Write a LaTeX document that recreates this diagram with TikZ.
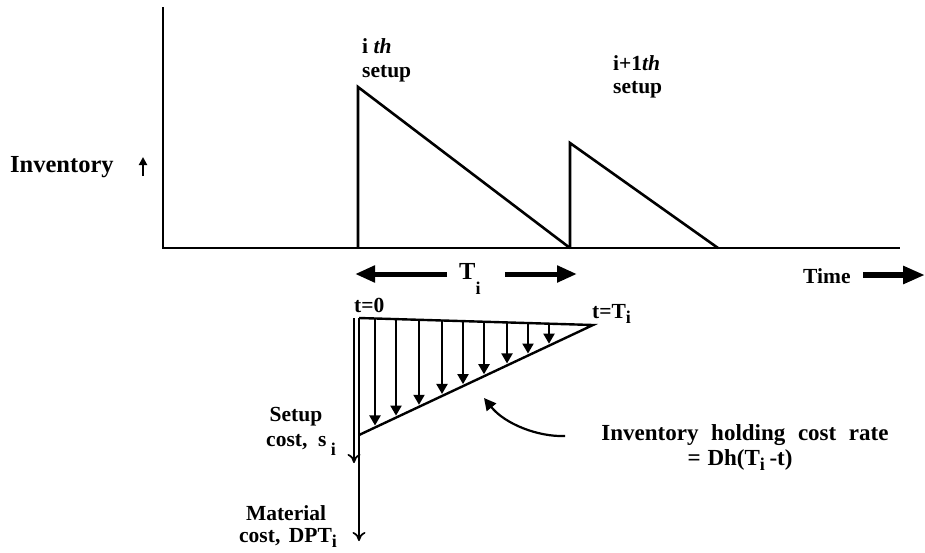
\documentclass[tikz,border=0pt]{standalone}
\usepackage{fontspec}
\setmainfont{Liberation Serif}
\usetikzlibrary{arrows.meta}
\newcommand{\lwi}[1]{\raisebox{#1}{\fontsize{18}{18}\selectfont i}}
\tikzset{
  axis/.style={line width=2.8pt},
  saw/.style={line width=2.6pt, line join=miter},
  lbl/.style={font=\fontsize{21.5}{22}\selectfont\bfseries, inner sep=0pt},
  big/.style={font=\fontsize{24.5}{25}\selectfont\bfseries, inner sep=0pt},
  hold/.style={font=\fontsize{23}{24}\selectfont\bfseries, inner sep=0pt},
  fatarrow/.style={line width=5pt, -{Triangle[length=20pt,width=16pt]}},
  small/.style={line width=2pt, -{Triangle[length=10pt,width=11pt]}},
  cost/.style={line width=1.7pt, -{To[length=9pt,width=13pt]}},
}
\begin{document}
\begin{tikzpicture}[x=1pt,y=-1pt]
\useasboundingbox (0,0) rectangle (925,552);
% axes
\coordinate (O) at (163,248);
\coordinate (Ytop) at (163,7);
\coordinate (Xend) at (900,248);
\draw[axis] (Ytop) -- (O) -- (Xend);
% sawtooth
\coordinate (a0) at (358,248);
\coordinate (a1) at (358,87);
\coordinate (a2) at (570,248);
\coordinate (b1) at (570,143);
\coordinate (b2) at (718,248);
\draw[saw] (a0) -- (a1) -- (a2);
\draw[saw] (a2) -- (b1) -- (b2);
% setup labels
\node[lbl, anchor=base west] (ith) at (362,53) {i \textit{th}};
\node[lbl, anchor=base west] (ithb) at (362,77) {setup};
\node[lbl, anchor=base west] (i1th) at (613,70) {i+1\textit{th}};
\node[lbl, anchor=base west] (i1thb) at (613,93) {setup};
% inventory label
\node[big, anchor=base west] (inv) at (10,172) {Inventory};
\coordinate (ia1) at (143,176);
\coordinate (ia2) at (143,157);
\draw[line width=2pt, -{Triangle[length=8pt,width=8pt]}] (ia1) -- (ia2);
% T_i arrows
\node[big, anchor=base west] (Ti) at (459,279) {T\lwi{-15pt}};
\coordinate (tl1) at (447,274);
\coordinate (tl2) at (355,274);
\coordinate (tr1) at (505,274);
\coordinate (tr2) at (577,274);
\draw[fatarrow] (tl1) -- (tl2);
\draw[fatarrow] (tr1) -- (tr2);
% Time
\node[lbl, anchor=base west] (time) at (803,283) {Time};
\coordinate (tm1) at (863,275);
\coordinate (tm2) at (925,275);
\draw[line width=5.5pt, -{Triangle[length=22pt,width=17pt]}] (tm1) -- (tm2);
% lower triangle
\node[lbl, anchor=base west] (t0) at (354,312) {t=0};
\node[lbl, anchor=base west] (tT) at (592,318) {t=T\lwi{-5pt}};
\coordinate (P) at (359,318);
\coordinate (Q) at (593,325);
\coordinate (R) at (359,435);
\draw[line width=2.4pt, line join=miter] (P) -- (Q) -- (R);
\coordinate (L1) at (354,318);
\coordinate (L1e) at (354,463);
\coordinate (L2e) at (359,541);
\draw[cost] (L1) -- (L1e);
\draw[cost] (P) -- (L2e);
% small arrows
\foreach \x [count=\k] in {375,396,419,442,463,484,507,528,549}{
  \coordinate (s\k) at (\x,{318+(\x-359)/234*7+1});
  \coordinate (e\k) at (\x,{435-(\x-359)/234*110-2});
  \draw[small] (s\k) -- (e\k);
}
% cost labels
\node[lbl, anchor=base] (setupa) at (296,421) {Setup};
\node[lbl, anchor=base west] (setupb) at (266,446) {cost,\hspace{0.5em}s\hspace{0.2em}\lwi{-9pt}};
\node[lbl, anchor=base] (mata) at (286,520) {Material};
\node[lbl, anchor=base west] (matb) at (239,542) {cost,\hspace{0.4em}DPT\lwi{-5pt}};
% holding cost
\node[hold, anchor=base] (holda) at (745,440) {Inventory\hspace{0.55em}holding\hspace{0.55em}cost\hspace{0.55em}rate};
\node[hold, anchor=base] (holdb) at (740,465) {=\hspace{0.3em}Dh(T\lwi{-5pt}\hspace{0.2em}-t)};
\coordinate (ct) at (565,436);
\coordinate (ch) at (484,398);
\draw[line width=2.2pt, -{Triangle[length=12pt,width=12pt]}] (ct) .. controls (538,437) and (505,424) .. (ch);
\end{tikzpicture}
\end{document}
